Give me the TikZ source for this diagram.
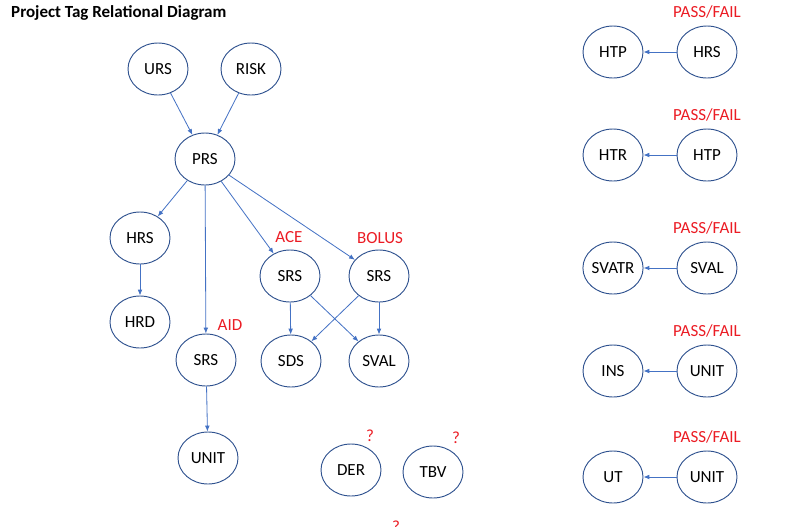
\documentclass[tikz,border=0pt]{standalone}
\usepackage{fontspec}
\setmainfont{Carlito}
\usetikzlibrary{arrows.meta,positioning,shapes}

\definecolor{rimblue}{RGB}{47,82,143}
\definecolor{linkblue}{RGB}{68,114,196}
\definecolor{flagred}{RGB}{235,28,36}

\tikzset{
	tag/.style={ellipse, draw=rimblue, line width=0.8pt, minimum width=1.8cm, minimum height=1.56cm, inner sep=0pt, font=\fontsize{14.5}{17}\selectfont},
	link/.style={draw=linkblue, line width=0.7pt, -{Latex[length=5pt,width=4pt]}},
	flag/.style={text=flagred, inner sep=0pt, font=\fontsize{14.5}{17}\selectfont}
}

\begin{document}
\begin{tikzpicture}[x=0.03cm, y=-0.03cm]
	\useasboundingbox (0,0) rectangle (802,527);
	\node[anchor=west, inner sep=0pt, font=\bfseries\fontsize{14.5}{17}\selectfont] (title) at (11,13) {Project Tag Relational Diagram};

	% requirement tree
	\node[tag] (urs) at (158,69) {URS};
	\node[tag] (risk) at (251,69) {RISK};
	\node[tag] (prs) at (205,159) {PRS};
	\node[tag] (hrs) at (140,238) {HRS};
	\node[tag] (hrd) at (140,322) {HRD};
	\node[tag] (aid) at (206,360) {SRS};
	\node[tag] (ace) at (290,276) {SRS};
	\node[tag] (bolus) at (379,276) {SRS};
	\node[tag] (sds) at (291,361) {SDS};
	\node[tag] (sval) at (379,361) {SVAL};
	\node[tag] (unit) at (208,458) {UNIT};
	\node[tag] (der) at (351,470) {DER};
	\node[tag] (tbv) at (433,472) {TBV};

	\node[flag] (acelbl) at (289,237) {ACE};
	\node[flag] (boluslbl) at (380,238) {BOLUS};
	\node[flag] (aidlbl) at (230,325) {AID};
	\node[flag] (derq) at (370,436) {?};
	\node[flag] (tbvq) at (456,438) {?};
	\node[flag, anchor=north] (lostq) at (396,521) {?};

	\draw[link] (urs) -- (prs);
	\draw[link] (risk) -- (prs);
	\draw[link] (prs) -- (hrs);
	\draw[link] (prs) -- (aid);
	\draw[link] (prs) -- (ace);
	\draw[link] (prs) -- (bolus);
	\draw[link] (hrs) -- (hrd);
	\draw[link] (ace) -- (sds);
	\draw[link] (ace) -- (sval);
	\draw[link] (bolus) -- (sds);
	\draw[link] (bolus) -- (sval);
	\draw[link] (aid) -- (unit);

	% test pairs on the right
	\foreach \row/\y/\lhs/\rhs in {1/52/HTP/HRS, 2/155/HTR/HTP, 3/268/SVATR/SVAL, 4/371/INS/UNIT, 5/477/UT/UNIT} {
		\node[tag] (test\row) at (613,\y) {\lhs};
		\node[tag] (src\row) at (707,\y) {\rhs};
		\node[flag] (pf\row) at (707,\y-40) {PASS/FAIL};
		\draw[link] (src\row) -- (test\row);
	}
\end{tikzpicture}
\end{document}
